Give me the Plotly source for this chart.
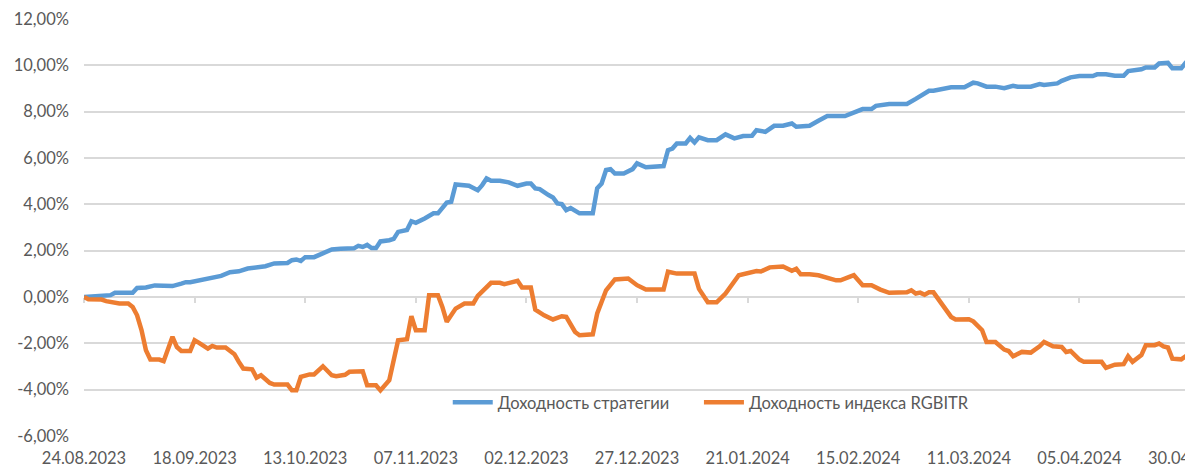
import plotly.graph_objects as go

# Strategy returns, %
strat_dates = [
    "2023-08-24", "2023-08-30", "2023-08-31", "2023-09-04", "2023-09-05", "2023-09-07", "2023-09-09",
    "2023-09-11", "2023-09-13", "2023-09-15", "2023-09-16", "2023-09-17", "2023-09-20", "2023-09-22",
    "2023-09-24", "2023-09-26", "2023-09-28", "2023-09-30", "2023-10-03", "2023-10-04", "2023-10-06",
    "2023-10-09", "2023-10-10", "2023-10-11", "2023-10-12", "2023-10-13", "2023-10-15", "2023-10-18",
    "2023-10-19", "2023-10-21", "2023-10-24", "2023-10-25", "2023-10-26", "2023-10-27", "2023-10-28",
    "2023-10-29", "2023-10-30", "2023-11-01", "2023-11-02", "2023-11-03", "2023-11-05", "2023-11-06",
    "2023-11-07", "2023-11-09", "2023-11-11", "2023-11-12", "2023-11-14", "2023-11-15", "2023-11-16",
    "2023-11-19", "2023-11-21", "2023-11-22", "2023-11-23", "2023-11-24", "2023-11-26", "2023-11-28",
    "2023-11-29", "2023-11-30", "2023-12-02", "2023-12-03", "2023-12-04", "2023-12-05", "2023-12-07",
    "2023-12-08", "2023-12-09", "2023-12-10", "2023-12-11", "2023-12-12", "2023-12-14", "2023-12-17",
    "2023-12-18", "2023-12-19", "2023-12-20", "2023-12-21", "2023-12-22", "2023-12-24", "2023-12-26",
    "2023-12-27", "2023-12-29", "2023-12-31", "2024-01-02", "2024-01-03", "2024-01-04", "2024-01-05",
    "2024-01-07", "2024-01-08", "2024-01-09", "2024-01-10", "2024-01-12", "2024-01-14", "2024-01-16",
    "2024-01-18", "2024-01-20", "2024-01-22", "2024-01-23", "2024-01-25", "2024-01-27", "2024-01-29",
    "2024-01-31", "2024-02-01", "2024-02-04", "2024-02-06", "2024-02-08", "2024-02-12", "2024-02-14",
    "2024-02-16", "2024-02-18", "2024-02-19", "2024-02-22", "2024-02-26", "2024-02-28", "2024-03-02",
    "2024-03-03", "2024-03-05", "2024-03-07", "2024-03-10", "2024-03-12", "2024-03-13", "2024-03-15",
    "2024-03-17", "2024-03-19", "2024-03-21", "2024-03-22", "2024-03-25", "2024-03-26", "2024-03-27",
    "2024-03-28", "2024-03-31", "2024-04-01", "2024-04-03", "2024-04-05", "2024-04-08", "2024-04-09",
    "2024-04-11", "2024-04-13", "2024-04-15", "2024-04-16", "2024-04-17", "2024-04-19", "2024-04-20",
    "2024-04-22", "2024-04-23", "2024-04-24", "2024-04-25", "2024-04-26", "2024-04-28", "2024-04-29",
    "2024-04-30", "2024-05-01",
]
strat_values = [
    0.00, 0.08, 0.18, 0.18, 0.39, 0.41, 0.50,
    0.50, 0.47, 0.58, 0.64, 0.64, 0.77, 0.84,
    0.91, 1.07, 1.11, 1.23, 1.27, 1.33, 1.45,
    1.47, 1.59, 1.62, 1.56, 1.72, 1.72, 1.98,
    2.05, 2.08, 2.10, 2.21, 2.16, 2.25, 2.11,
    2.11, 2.40, 2.45, 2.51, 2.81, 2.89, 3.27,
    3.20, 3.39, 3.61, 3.61, 4.08, 4.11, 4.86,
    4.80, 4.61, 4.83, 5.12, 5.02, 5.02, 4.95,
    4.90, 4.80, 4.90, 4.90, 4.69, 4.66, 4.40,
    4.30, 4.04, 4.01, 3.75, 3.84, 3.61, 3.61,
    4.69, 4.90, 5.48, 5.52, 5.33, 5.33, 5.52,
    5.77, 5.60, 5.62, 5.65, 6.34, 6.41, 6.63,
    6.63, 6.87, 6.67, 6.89, 6.77, 6.77, 7.02,
    6.85, 6.95, 6.96, 7.20, 7.13, 7.39, 7.39,
    7.49, 7.35, 7.39, 7.61, 7.81, 7.81, 7.97,
    8.11, 8.11, 8.25, 8.33, 8.33, 8.55, 8.90,
    8.90, 8.98, 9.05, 9.05, 9.25, 9.22, 9.08,
    9.08, 9.01, 9.12, 9.08, 9.08, 9.15, 9.19,
    9.15, 9.22, 9.33, 9.48, 9.54, 9.54, 9.61,
    9.61, 9.55, 9.55, 9.75, 9.77, 9.83, 9.91,
    9.91, 10.08, 10.08, 10.11, 9.87, 9.87, 10.11,
    10.11, 10.11,
]

# RGBITR index returns, %
index_dates = [
    "2023-08-24", "2023-08-25", "2023-08-28", "2023-08-29", "2023-09-01", "2023-09-03", "2023-09-04",
    "2023-09-05", "2023-09-06", "2023-09-07", "2023-09-08", "2023-09-10", "2023-09-11", "2023-09-12",
    "2023-09-13", "2023-09-14", "2023-09-15", "2023-09-17", "2023-09-18", "2023-09-19", "2023-09-21",
    "2023-09-22", "2023-09-23", "2023-09-25", "2023-09-27", "2023-09-28", "2023-09-29", "2023-10-01",
    "2023-10-02", "2023-10-03", "2023-10-05", "2023-10-06", "2023-10-09", "2023-10-10", "2023-10-11",
    "2023-10-12", "2023-10-14", "2023-10-15", "2023-10-17", "2023-10-19", "2023-10-20", "2023-10-22",
    "2023-10-23", "2023-10-26", "2023-10-27", "2023-10-29", "2023-10-30", "2023-11-01", "2023-11-03",
    "2023-11-05", "2023-11-06", "2023-11-07", "2023-11-09", "2023-11-10", "2023-11-12", "2023-11-13",
    "2023-11-14", "2023-11-16", "2023-11-18", "2023-11-20", "2023-11-21", "2023-11-24", "2023-11-26",
    "2023-11-27", "2023-11-30", "2023-12-01", "2023-12-03", "2023-12-04", "2023-12-06", "2023-12-08",
    "2023-12-10", "2023-12-11", "2023-12-13", "2023-12-14", "2023-12-17", "2023-12-18", "2023-12-20",
    "2023-12-22", "2023-12-25", "2023-12-27", "2023-12-29", "2024-01-02", "2024-01-03", "2024-01-05",
    "2024-01-08", "2024-01-09", "2024-01-10", "2024-01-12", "2024-01-14", "2024-01-16", "2024-01-19",
    "2024-01-21", "2024-01-23", "2024-01-24", "2024-01-26", "2024-01-29", "2024-01-31", "2024-02-01",
    "2024-02-02", "2024-02-04", "2024-02-06", "2024-02-10", "2024-02-11", "2024-02-13", "2024-02-14",
    "2024-02-16", "2024-02-18", "2024-02-20", "2024-02-22", "2024-02-26", "2024-02-27", "2024-02-28",
    "2024-02-29", "2024-03-01", "2024-03-02", "2024-03-03", "2024-03-05", "2024-03-07", "2024-03-08",
    "2024-03-11", "2024-03-12", "2024-03-14", "2024-03-15", "2024-03-17", "2024-03-19", "2024-03-20",
    "2024-03-21", "2024-03-23", "2024-03-25", "2024-03-26", "2024-03-27", "2024-03-28", "2024-03-30",
    "2024-04-01", "2024-04-02", "2024-04-03", "2024-04-05", "2024-04-06", "2024-04-10", "2024-04-11",
    "2024-04-13", "2024-04-15", "2024-04-16", "2024-04-17", "2024-04-19", "2024-04-20", "2024-04-22",
    "2024-04-23", "2024-04-24", "2024-04-25", "2024-04-26", "2024-04-28", "2024-04-29", "2024-04-30",
    "2024-05-01",
]
index_values = [
    0.00, -0.10, -0.11, -0.18, -0.28, -0.28, -0.43,
    -0.79, -1.43, -2.30, -2.70, -2.70, -2.77, -2.22,
    -1.72, -2.16, -2.33, -2.33, -1.87, -1.98, -2.23,
    -2.11, -2.18, -2.18, -2.47, -2.80, -3.09, -3.12,
    -3.48, -3.38, -3.71, -3.78, -3.78, -4.03, -4.03,
    -3.45, -3.34, -3.34, -2.99, -3.38, -3.42, -3.36,
    -3.23, -3.21, -3.81, -3.81, -4.03, -3.59, -1.87,
    -1.82, -0.83, -1.43, -1.43, 0.08, 0.08, -0.43,
    -1.07, -0.50, -0.28, -0.28, 0.05, 0.61, 0.61,
    0.55, 0.70, 0.41, 0.41, -0.54, -0.79, -0.97,
    -0.83, -0.86, -1.51, -1.65, -1.61, -0.71, 0.29,
    0.76, 0.80, 0.51, 0.32, 0.32, 1.09, 1.01,
    1.03, 1.01, 0.35, -0.23, -0.23, 0.15, 0.94,
    1.03, 1.12, 1.10, 1.28, 1.32, 1.13, 1.22,
    0.98, 0.98, 0.94, 0.72, 0.72, 0.87, 0.94,
    0.51, 0.51, 0.32, 0.18, 0.20, 0.29, 0.15,
    0.19, 0.10, 0.20, 0.20, -0.35, -0.86, -0.97,
    -0.96, -1.05, -1.43, -1.94, -1.94, -2.27, -2.33,
    -2.56, -2.37, -2.40, -2.27, -2.13, -1.94, -2.13,
    -2.16, -2.37, -2.33, -2.70, -2.80, -2.80, -3.06,
    -2.92, -2.90, -2.56, -2.80, -2.51, -2.08, -2.08,
    -2.01, -2.13, -2.18, -2.66, -2.69, -2.56, -2.59,
    -2.59,
]

x_tick_dates = [
    "2023-08-24", "2023-09-18", "2023-10-13", "2023-11-07", "2023-12-02", "2023-12-27",
    "2024-01-21", "2024-02-15", "2024-03-11", "2024-04-05", "2024-04-30",
]
x_tick_labels = [
    "24.08.2023", "18.09.2023", "13.10.2023", "07.11.2023", "02.12.2023", "27.12.2023",
    "21.01.2024", "15.02.2024", "11.03.2024", "05.04.2024", "30.04.2024",
]
y_tick_values = [-6, -4, -2, 0, 2, 4, 6, 8, 10, 12]
y_tick_labels = ["-6,00%", "-4,00%", "-2,00%", "0,00%", "2,00%", "4,00%", "6,00%", "8,00%", "10,00%", "12,00%"]

series_names = ["Доходность стратегии", "Доходность индекса RGBITR"]
series_colors = ["#5B9BD5", "#ED7D31"]

FONT = "Lato, Carlito, 'Liberation Sans', sans-serif"
TEXT = "#595959"
GRID = "#D9D9D9"
FS = 16.5

fig = go.Figure()
fig.add_trace(go.Scatter(x=strat_dates, y=strat_values, mode="lines", name=series_names[0],
                         line=dict(color=series_colors[0], width=4.5), legend="legend"))
fig.add_trace(go.Scatter(x=index_dates, y=index_values, mode="lines", name=series_names[1],
                         line=dict(color=series_colors[1], width=4.5), legend="legend2"))
# invisible trace to carry the zero-crossing category axis
fig.add_trace(go.Scatter(x=[x_tick_dates[0]], y=[0], xaxis="x2", mode="lines",
                         showlegend=False, hoverinfo="skip", line=dict(width=0)))

legend_common = dict(orientation="h", xanchor="left", y=0.08, yanchor="middle",
                     bgcolor="rgba(255,255,255,0)", font=dict(family=FONT, size=FS, color=TEXT),
                     itemwidth=40)

fig.update_layout(
    width=1185, height=461,
    margin=dict(l=76, r=0, t=11, b=33, autoexpand=False),
    paper_bgcolor="white", plot_bgcolor="white",
    font=dict(family=FONT, size=FS, color=TEXT),
    showlegend=True,
    legend=dict(x=0.328, **legend_common),
    legend2=dict(x=0.5545, **legend_common),
    xaxis=dict(
        type="date", automargin=False,
        range=["2023-08-24", "2024-04-30 16:00"],
        tickmode="array", tickvals=x_tick_dates, ticktext=x_tick_labels,
        showgrid=False, zeroline=False, showline=False, ticks="",
        ticklabelstandoff=10, ticklabeloverflow="allow",
        tickfont=dict(family=FONT, size=FS, color=TEXT),
    ),
    xaxis2=dict(
        type="date", overlaying="x", matches="x", anchor="free", position=1/3,
        automargin=False,
        tickmode="array", tickvals=x_tick_dates,
        showticklabels=False, showgrid=False, zeroline=False,
        showline=True, linecolor=GRID, linewidth=1.5,
        ticks="outside", ticklen=5, tickcolor=GRID, tickwidth=1.5,
        layer="below traces",
    ),
    yaxis=dict(
        range=[-6, 12], automargin=False,
        tickmode="array", tickvals=y_tick_values, ticktext=y_tick_labels,
        showgrid=True, gridcolor=GRID, gridwidth=1.5,
        zeroline=False, showline=False, ticks="",
        ticklabelstandoff=14,
        tickfont=dict(family=FONT, size=FS, color=TEXT),
    ),
)

fig.write_html("out.html")
